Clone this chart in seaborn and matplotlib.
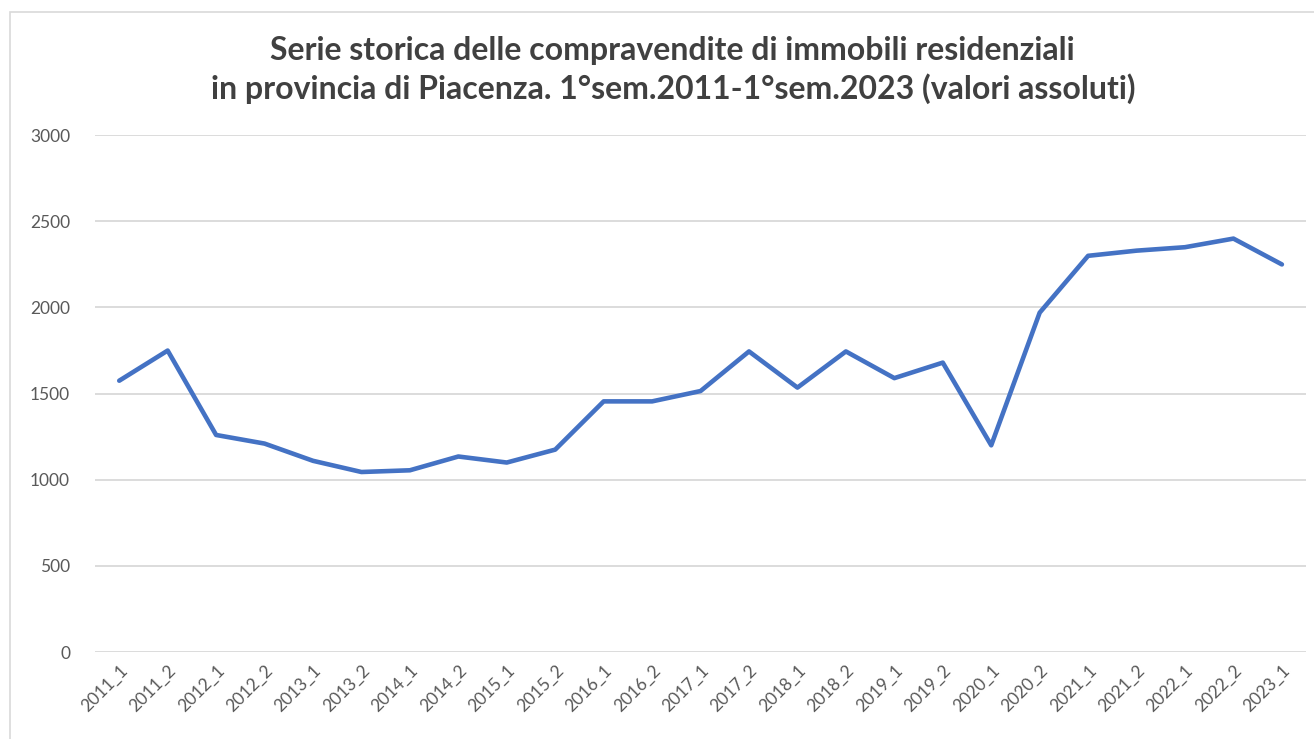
import matplotlib
matplotlib.use("Agg")
import matplotlib.pyplot as plt
import seaborn as sns
import pandas as pd
from matplotlib.patches import Rectangle

periods = ["2011_1", "2011_2", "2012_1", "2012_2", "2013_1", "2013_2", "2014_1", "2014_2",
           "2015_1", "2015_2", "2016_1", "2016_2", "2017_1", "2017_2", "2018_1", "2018_2",
           "2019_1", "2019_2", "2020_1", "2020_2", "2021_1", "2021_2", "2022_1", "2022_2",
           "2023_1"]
compravendite = [1575, 1750, 1260, 1210, 1110, 1045, 1055, 1135, 1100, 1175, 1455, 1455,
                 1515, 1745, 1535, 1745, 1590, 1680, 1200, 1970, 2300, 2330, 2350, 2400,
                 2250]
y_ticks = [0, 500, 1000, 1500, 2000, 2500, 3000]
title = ("Serie storica delle compravendite di immobili residenziali\n"
         "in provincia di Piacenza. 1°sem.2011-1°sem.2023 (valori assoluti)")

sns.set_theme(style="white")
plt.rcParams['font.family'] = ['Lato', 'DejaVu Sans']

df = pd.DataFrame({"periodo": periods, "valore": compravendite})
df["x"] = range(len(df))

fig = plt.figure(figsize=(13.14, 7.39), dpi=100)
ax = fig.add_axes([0.0723, 0.1177, 0.9217, 0.6993])

sns.lineplot(data=df, x="x", y="valore", ax=ax, color="#4472C4", linewidth=3.3)

ax.set_xlim(-0.5, len(periods) - 0.5)
ax.set_ylim(0, 3000)
ax.set_yticks(y_ticks)
ax.set_yticklabels([str(v) for v in y_ticks], fontsize=12.5, color="#595959")
ax.set_xticks(df["x"])
ax.set_xticklabels(periods, rotation=45, ha="right", rotation_mode="anchor",
                   fontsize=12.5, color="#595959")
ax.tick_params(axis="y", length=0, pad=18)
ax.tick_params(axis="x", length=0, pad=7)
ax.set_xlabel("")
ax.set_ylabel("")
ax.grid(axis="y", color="#D9D9D9", linewidth=1.3)
ax.grid(axis="x", visible=False)
ax.set_axisbelow(True)
for s in ax.spines.values():
    s.set_visible(False)

fig.text(0.512, 0.905, title, ha="center", va="center", fontsize=23, fontweight="bold",
         color="#404040", linespacing=1.3)

fig.patches.append(Rectangle((10 / 1314, -0.05), 1.2, 1.05 - 12 / 739,
                             transform=fig.transFigure, fill=False,
                             edgecolor="#D9D9D9", linewidth=1.2))

fig.savefig("out.png", dpi=100)
